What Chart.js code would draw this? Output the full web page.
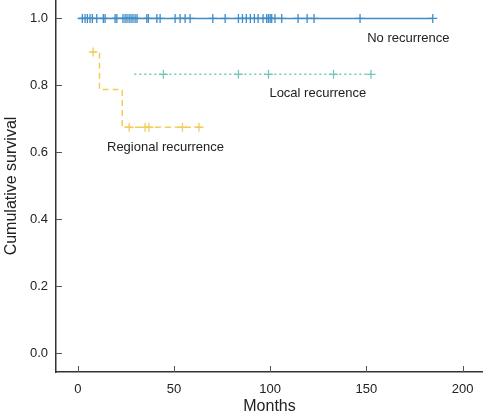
<!DOCTYPE html>
<html>
<head>
<meta charset="utf-8">
<script src="https://cdn.jsdelivr.net/npm/chart.js@4/dist/chart.umd.min.js"></script>
<style>
  html, body { margin: 0; padding: 0; background: #fff; }
  #wrap { width: 483px; height: 413px; position: relative; }
</style>
</head>
<body>
<div id="wrap"><canvas id="chart"></canvas></div>
<script>
// Kaplan-Meier curves (months, cumulative survival)
const noRecTimes = [0, 184.5];
const noRecSurv = [1.0, 1.0];
const noRecCensored = [2.4, 3.8, 5.0, 6.4, 7.6, 9.9, 13.3, 14.2, 19.4, 20.3, 23.5, 24.6, 25.6, 26.7,
    27.7, 28.7, 29.8, 30.8, 35.9, 36.7, 41.1, 42.8, 50.6, 53.2, 55.8, 58.4, 70.2, 76.6, 83.5, 85.6,
    87.6, 89.7, 91.8, 93.7, 96.3, 98.2, 99.1, 100.0, 100.8, 102.5, 106.0, 114.5, 119.2, 122.8,
    146.7, 184.5];

const localTimes = [29.4, 152.4];
const localSurv = [0.833, 0.833];
const localCensored = [44.5, 83.5, 99.1, 132.9, 152.4];

const regionalTimes = [6.5, 11.3, 23.1, 64.0];
const regionalSurv = [0.9, 0.7875, 0.675, 0.675];
const regionalCensored = [8.0, 26.7, 35.0, 37.0, 54.4, 63.0];

const xTicks = [0, 50, 100, 150, 200];
const yTicks = [0.0, 0.2, 0.4, 0.6, 0.8, 1.0];

const curveLabels = ["No recurrence", "Local recurrence", "Regional recurrence"];

const FONT = "'Liberation Sans', Arial, sans-serif";
const BLUE = "#3f8cc6";
const TEAL = "#74c6bb";
const YELLOW = "#f2cd58";

// survival value at time t on a step curve
function survAt(times, surv, t) {
    let v = surv[0];
    for (let i = 0; i < times.length; i++) {
        if (times[i] <= t + 1e-9) v = surv[i];
    }
    return v;
}

function curve(times, surv) {
    return times.map((t, i) => ({ x: t, y: surv[i] }));
}

function marks(times, surv, cens) {
    return cens.map(t => ({ x: t, y: survAt(times, surv, t) }));
}

// inward tick marks on both axes
const innerTicks = {
    id: "innerTicks",
    afterDraw(chart) {
        const ctx = chart.ctx;
        const xs = chart.scales.x, ys = chart.scales.y;
        const a = chart.chartArea;
        ctx.save();
        ctx.strokeStyle = "#555";
        ctx.lineWidth = 1;
        xTicks.forEach(v => {
            const px = Math.round(xs.getPixelForValue(v)) + 0.5;
            ctx.beginPath();
            ctx.moveTo(px, a.bottom);
            ctx.lineTo(px, a.bottom - 6);
            ctx.stroke();
        });
        yTicks.forEach(v => {
            const py = Math.round(ys.getPixelForValue(v)) + 0.5;
            ctx.beginPath();
            ctx.moveTo(a.left, py);
            ctx.lineTo(a.left + 6, py);
            ctx.stroke();
        });
        ctx.restore();
    }
};

// curve names next to the lines
const curveText = {
    id: "curveText",
    afterDatasetsDraw(chart) {
        const ctx = chart.ctx;
        const xs = chart.scales.x, ys = chart.scales.y;
        const spots = [[150.4, 0.941], [99.6, 0.776], [15.2, 0.616]];
        ctx.save();
        ctx.font = "13px " + FONT;
        ctx.fillStyle = "#222";
        ctx.textBaseline = "middle";
        ctx.textAlign = "left";
        curveLabels.forEach((txt, i) => {
            ctx.fillText(txt, xs.getPixelForValue(spots[i][0]), ys.getPixelForValue(spots[i][1]));
        });
        ctx.restore();
    }
};

const ctx = document.getElementById("chart").getContext("2d");

new Chart(ctx, {
    type: "scatter",
    data: {
        datasets: [
            {
                data: curve(noRecTimes, noRecSurv),
                showLine: true, stepped: "before",
                borderColor: BLUE, borderWidth: 1.5, pointRadius: 0
            },
            {
                data: marks(noRecTimes, noRecSurv, noRecCensored),
                showLine: false, pointStyle: "cross", pointRadius: 4.5,
                borderColor: BLUE, pointBorderWidth: 1.3
            },
            {
                data: curve(localTimes, localSurv),
                showLine: true, stepped: "before",
                borderColor: TEAL, borderWidth: 1.5, borderDash: [2, 3], pointRadius: 0
            },
            {
                data: marks(localTimes, localSurv, localCensored),
                showLine: false, pointStyle: "cross", pointRadius: 4.5,
                borderColor: TEAL, pointBorderWidth: 1.3
            },
            {
                data: curve(regionalTimes, regionalSurv),
                showLine: true, stepped: "before",
                borderColor: YELLOW, borderWidth: 1.5, borderDash: [6, 4], pointRadius: 0
            },
            {
                data: marks(regionalTimes, regionalSurv, regionalCensored),
                showLine: false, pointStyle: "cross", pointRadius: 4.5,
                borderColor: YELLOW, pointBorderWidth: 1.3
            }
        ]
    },
    options: {
        responsive: true,
        maintainAspectRatio: false,
        animation: false,
        layout: { padding: 0, autoPadding: false },
        plugins: {
            legend: { display: false },
            tooltip: { enabled: false }
        },
        scales: {
            x: {
                type: "linear",
                min: -11.3, max: 210.6,
                afterBuildTicks: s => { s.ticks = xTicks.map(v => ({ value: v })); },
                afterFit: s => { s.height = 41; s.paddingLeft = 0; s.paddingRight = 0; },
                grid: { display: false },
                border: { display: true, color: "#333", width: 1.5 },
                ticks: {
                    color: "#222", padding: 2,
                    font: { family: FONT, size: 13 },
                    callback: v => String(v)
                },
                title: {
                    display: true, text: "Months", color: "#222",
                    font: { family: FONT, size: 16, lineHeight: 1 },
                    padding: { top: 0, bottom: -2 }
                }
            },
            y: {
                type: "linear",
                min: -0.056, max: 1.055,
                afterBuildTicks: s => { s.ticks = yTicks.map(v => ({ value: v })); },
                afterFit: s => { s.width = 56; s.paddingTop = 0; s.paddingBottom = 0; },
                grid: { display: false },
                border: { display: true, color: "#333", width: 1.5 },
                ticks: {
                    color: "#222", padding: 0,
                    font: { family: FONT, size: 13 },
                    callback: v => v.toFixed(1)
                },
                title: {
                    display: true, text: "Cumulative survival", color: "#222",
                    font: { family: FONT, size: 16, lineHeight: 1 },
                    padding: { top: 4, bottom: 0 }
                }
            }
        }
    },
    plugins: [innerTicks, curveText]
});
</script>
</body>
</html>
